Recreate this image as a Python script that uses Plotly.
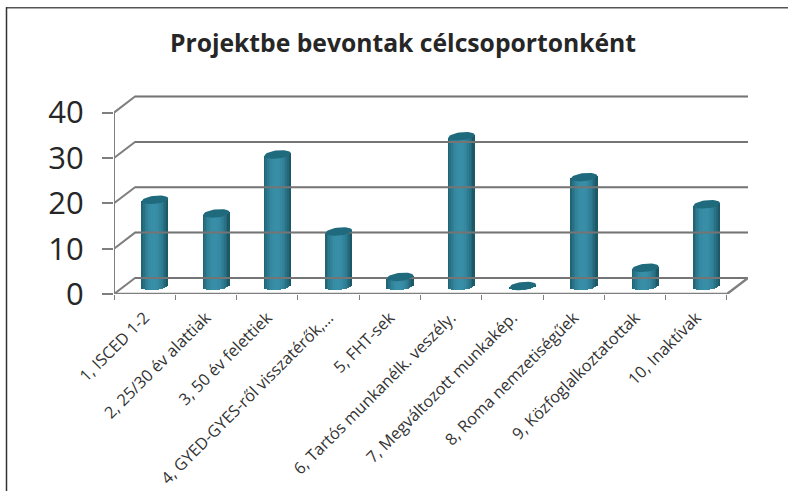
import numpy as np
import plotly.graph_objects as go

categories = ["1, ISCED 1-2", "2, 25/30 év alattiak", "3, 50 év felettiek",
              "4, GYED-GYES-ről visszatérők,...", "5, FHT-sek",
              "6, Tartós munkanélk. veszély.", "7, Megváltozott munkakép.",
              "8, Roma nemzetiségűek", "9, Közfoglalkoztatottak", "10, Inaktívak"]
values = [19, 16, 29, 12, 2, 33, 0, 24, 4, 18]
y_ticks = [0, 10, 20, 30, 40]

# pseudo-3D geometry, in data units
DX, DY = 0.343, 3.54       # depth of the floor
MX, MY = 0.17, 1.77        # bars stand half way along the depth
A, B, TILT = 0.215, 0.9, 0.28  # cylinder ellipse
N = 16
GRID = "#7f7f7f"
n = len(categories)
X_MAX = n + DX
Y_MAX = 44.54
PX_Y = 4.525
PLOT_W = 634
PLOT_H = Y_MAX * PX_Y
TOP = 294 - PLOT_H

fig = go.Figure()

def seg(xs, ys, width=2, color=GRID):
    fig.add_trace(go.Scatter(x=xs, y=ys, mode="lines", hoverinfo="skip", showlegend=False,
                             cliponaxis=False, line=dict(color=color, width=width)))

for v in y_ticks:
    seg([0, DX, X_MAX], [v, v + DY, v + DY], 2)
seg([0, 0], [0, y_ticks[-1]], 2)

# cylinder body: vertical strips shaded from dark edge to light centre
dark = np.array([0x1b, 0x58, 0x68])
light = np.array([0x38, 0x8f, 0xa7])
centers = np.arange(n) + 0.5 + MX
vals = np.array(values, float)
for i in range(N):
    u0 = -1 + 2 * i / N
    u1 = -1 + 2 * (i + 1) / N
    u = (u0 + u1) / 2
    t = np.clip(1 - abs(u + 0.05) ** 2.2, 0, 1)
    c = (dark + (light - dark) * t).astype(int)
    edge = np.sqrt(max(1 - u * u, 0))
    base = MY - B * edge + TILT * u
    top = vals + MY + TILT * u
    fig.add_trace(go.Bar(x=centers + A * u, y=top - base, base=base,
                         width=2 * A / N * 1.2, hoverinfo="skip", showlegend=False,
                         marker=dict(color=f"rgb({c[0]},{c[1]},{c[2]})", line=dict(width=0))))

# faint gridlines showing through the cylinders
for v in y_ticks:
    seg([DX, X_MAX], [v + DY, v + DY], 2, "rgba(60,60,60,0.14)")

# cylinder caps
th = np.linspace(0, 2 * np.pi, 41)
cx, cy = [], []
for c0, v in zip(centers, vals):
    cx += list(c0 + A * np.cos(th)) + [None]
    cy += list(v + MY + B * np.sin(th) + TILT * np.cos(th)) + [None]
fig.add_trace(go.Scatter(x=cx, y=cy, mode="lines", fill="toself", fillcolor="#1f6a7c",
                         line=dict(width=0, color="#1f6a7c"), hoverinfo="skip", showlegend=False))

# floor edges
seg([0, n, X_MAX], [0, 0, DY], 2.4)

fy = lambda px: 1 - (px - TOP) / PLOT_H
fx = lambda px: (px - 114) / PLOT_W

fig.update_layout(
    width=788, height=491, autosize=False, barmode="overlay", bargap=0,
    margin=dict(l=114, r=40, t=TOP, b=197, autoexpand=False),
    paper_bgcolor="white", plot_bgcolor="white", showlegend=False,
    title=dict(text="<b>Projektbe bevontak célcsoportonként</b>", x=403 / 788, xanchor="center",
               xref="container", yref="container", y=1 - 43 / 491, yanchor="middle",
               font=dict(family="Open Sans", size=24.7, color="#262626")),
    xaxis=dict(range=[0, X_MAX], tickmode="array", tickvals=list(np.arange(n) + 0.5),
               ticktext=categories, tickangle=-45, ticks="", showgrid=False, zeroline=False,
               showline=False, ticklabelstandoff=10, automargin=False,
               tickfont=dict(family="Open Sans", size=16.3, color="#333333"),
               minor=dict(tickmode="array", tickvals=list(range(n + 1)), ticks="outside",
                          ticklen=5, tickwidth=1, tickcolor=GRID, showgrid=False)),
    yaxis=dict(range=[0, Y_MAX], tickmode="array", tickvals=y_ticks, ticks="outside",
               ticklen=11, tickwidth=1.5, tickcolor=GRID, showgrid=False, zeroline=False,
               showline=False, ticklabelstandoff=12, automargin=False,
               tickfont=dict(family="Open Sans", size=31, color="#262626")),
    shapes=[
        dict(type="line", xref="paper", yref="paper", x0=fx(6), x1=fx(788),
             y0=fy(8.5), y1=fy(8.5), line=dict(color="#555555", width=1.5)),
        dict(type="line", xref="paper", yref="paper", x0=fx(6.5), x1=fx(6.5),
             y0=fy(8), y1=fy(491), line=dict(color="#333333", width=1.5)),
    ],
)
fig.write_html("out.html", config={"displayModeBar": False},
               post_script="document.body.style.margin='0';")
